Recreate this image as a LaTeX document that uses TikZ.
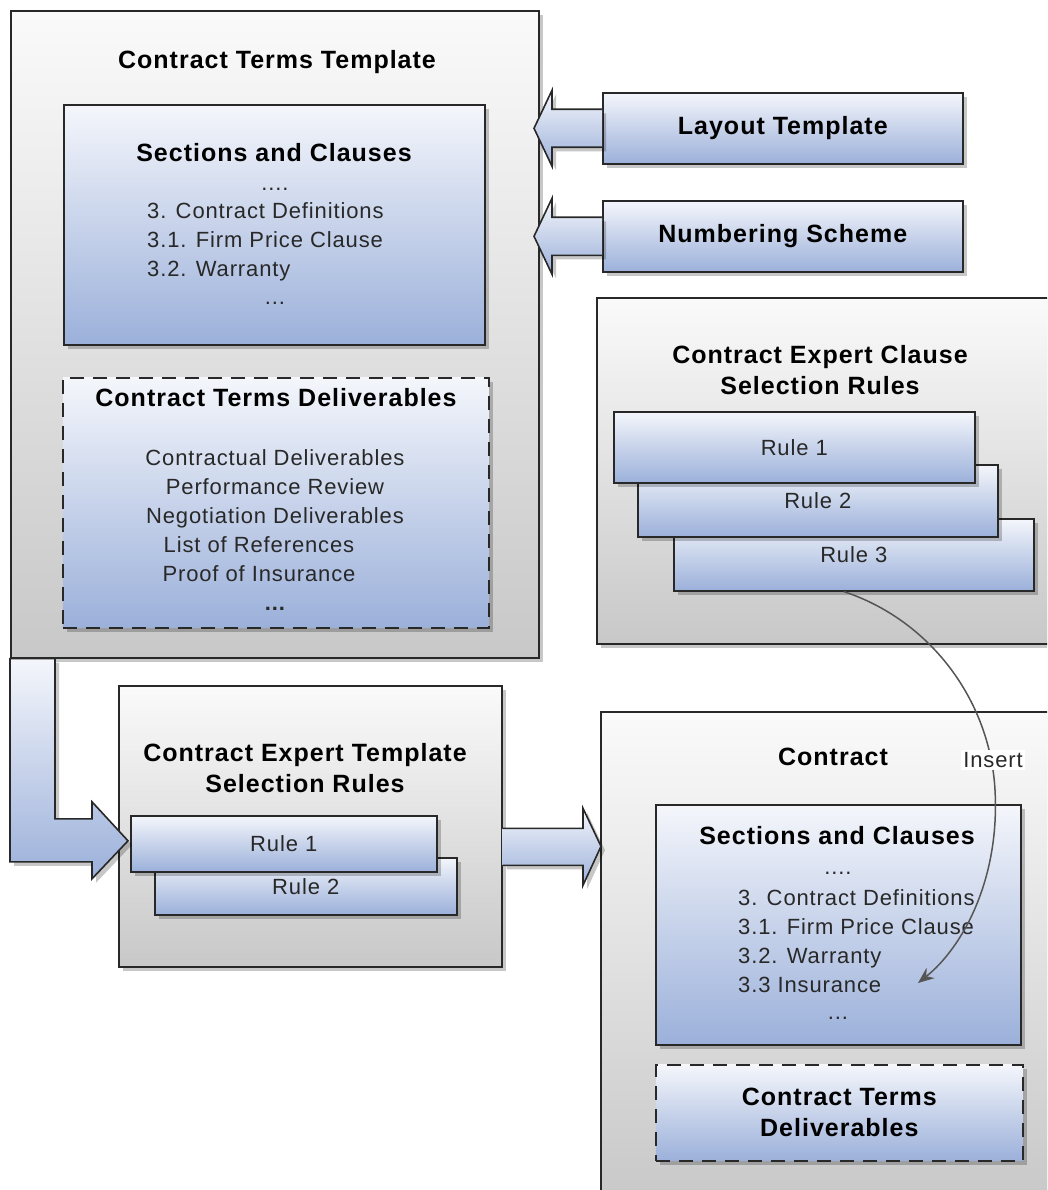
\documentclass[tikz,border=0pt]{standalone}
\usepackage{fontspec}
\setmainfont{Liberation Sans}
\newfontfamily\ttlfont[LetterSpace=4]{Liberation Sans}
\newfontfamily\bodyfont[LetterSpace=4]{Liberation Sans}
\usetikzlibrary{shadows,arrows.meta,calc}
\definecolor{bluetop}{RGB}{244,246,251}
\definecolor{bluebot}{RGB}{155,176,218}
\definecolor{graytop}{RGB}{250,250,250}
\definecolor{graybot}{RGB}{200,200,200}
\definecolor{edge}{RGB}{40,40,40}
\definecolor{txt}{RGB}{40,40,40}
\definecolor{curve}{RGB}{85,85,85}
\tikzset{
  shadowed/.style={drop shadow={shadow xshift=4pt,shadow yshift=-4pt,opacity=0.22,fill=black}},
  graybox/.style={draw=edge,line width=1.6pt,top color=graytop,bottom color=graybot,shadowed,anchor=north west,inner sep=0pt},
  bluebox/.style={draw=edge,line width=1.6pt,top color=bluetop,bottom color=bluebot,shadowed,anchor=north west,inner sep=0pt},
  dashbox/.style={bluebox,dash pattern=on 14pt off 9pt},
  ttl/.style={font=\ttlfont\bfseries\fontsize{25}{31}\selectfont,text=black,align=center,inner sep=0pt},
  body/.style={font=\bodyfont\fontsize{22}{29}\selectfont,text=txt,align=center,inner sep=0pt},
  blockarrow/.style={draw=edge,line width=1.6pt,top color=bluetop,bottom color=bluebot,shadowed,line join=miter},
  insertline/.style={draw=curve,line width=1.5pt,-{Stealth[length=16pt,width=13pt]}}
}
\begin{document}
\begin{tikzpicture}[x=1pt,y=-1pt]
\useasboundingbox (0,0) rectangle (1047,1190);
\clip (0,0) rectangle (1047,1190);
\fill[white] (0,0) rectangle (1047,1190);

% ---------- Contract Terms Template ----------
\node[graybox,minimum width=528pt,minimum height=647pt] (ctt) at (10,10) {};
\node[ttl] (cttT) at (277,62) {Contract Terms Template};
\node[bluebox,minimum width=421pt,minimum height=240pt] (sc1) at (63,104) {};
\node[ttl] (sc1T) at (274,153) {Sections and Clauses};
\node[body] (sc1a) at (275,189) {....};
\node[body,align=left,anchor=west] (sc1b) at (147,242) {3. Contract Definitions\\3.1. Firm Price Clause\\3.2. Warranty};
\node[body] (sc1c) at (275,303) {...};
\node[dashbox,minimum width=426pt,minimum height=250pt] (ctd1) at (62,377) {};
\node[ttl] (ctd1T) at (276,398) {Contract Terms Deliverables};
\node[body] (ctd1b) at (275,530) {Contractual Deliverables\\Performance Review\\Negotiation Deliverables\\List of References\hspace*{32pt}\mbox{}\\Proof of Insurance\hspace*{32pt}\mbox{}\\{\bfseries ...}};

% ---------- Layout / Numbering ----------
\node[bluebox,ttl,minimum width=360pt,minimum height=71pt] (lt) at (602,92) {Layout Template};
\node[bluebox,ttl,minimum width=360pt,minimum height=71pt] (ns) at (602,200) {Numbering Scheme};

% ---------- Contract Expert Clause Selection Rules ----------
\node[graybox,minimum width=464pt,minimum height=346pt] (ccr) at (596,297) {};
\node[ttl] (ccrT) at (820,370) {Contract Expert Clause\\Selection Rules};
\node[bluebox,body,minimum width=360pt,minimum height=72pt] (cr3) at (673,518) {Rule 3};
\node[bluebox,body,minimum width=360pt,minimum height=72pt] (cr2) at (637,464) {Rule 2};
\node[bluebox,body,minimum width=361pt,minimum height=71pt] (cr1) at (613,411) {Rule 1};

% ---------- Contract Expert Template Selection Rules ----------
\node[graybox,minimum width=383pt,minimum height=281pt] (etr) at (118,685) {};
\node[ttl] (etrT) at (305,768) {Contract Expert Template\\Selection Rules};
\node[bluebox,body,minimum width=302pt,minimum height=57pt] (tr2) at (154,857) {Rule 2};
\node[bluebox,body,minimum width=306pt,minimum height=56pt] (tr1) at (130,815) {Rule 1};

% ---------- Contract ----------
\node[graybox,minimum width=460pt,minimum height=490pt] (con) at (600,711) {};
\node[ttl] (conT) at (833,757) {Contract};
\node[bluebox,minimum width=365pt,minimum height=240pt] (sc2) at (655,804) {};
\node[ttl] (sc2T) at (837,836) {Sections and Clauses};
\node[body] (sc2a) at (838,873) {....};
\node[body,align=left,anchor=west] (sc2b) at (738,941) {3. Contract Definitions\\3.1. Firm Price Clause\\3.2. Warranty\\3.3 Insurance};
\node[body] (sc2c) at (838,1018) {...};
\node[dashbox,ttl,minimum width=367pt,minimum height=96pt] (ctd2) at (655,1064) {Contract Terms\\Deliverables};

% ---------- Block arrows ----------
\draw[blockarrow] ($(lt.west)+(0,-19)$) -- ++(-50,0) -- ++(0,-19) -- ($(lt.west)+(-68,0)$)
  -- ($(lt.west)+(-50,38)$) -- ++(0,-19) -- ($(lt.west)+(0,19)$);
\draw[blockarrow] ($(ns.west)+(0,-19)$) -- ++(-50,0) -- ++(0,-19) -- ($(ns.west)+(-68,0)$)
  -- ($(ns.west)+(-50,38)$) -- ++(0,-19) -- ($(ns.west)+(0,19)$);

\coordinate (rtip) at ($(con.west |- etr.east)+(1,20)$);
\draw[blockarrow] ($(etr.east)+(0,2)$) -- ($(rtip)+(-18,-18)$) -- ($(rtip)+(-18,-38)$) -- (rtip)
  -- ($(rtip)+(-18,39)$) -- ($(rtip)+(-18,19)$) -- ($(etr.east)+(0,39)$);

\coordinate (ltip) at ($(tr1.west)+(-2,-3)$);
\draw[blockarrow] (ctt.south west) -- ++(45,0) -- ($(ltip)+(-73,-22)$) -- ($(ltip)+(-36,-22)$)
  -- ($(ltip)+(-36,-39)$) -- (ltip) -- ($(ltip)+(-36,38)$) -- ($(ltip)+(-36,21)$)
  -- ($(ltip)+(-118,21)$) -- cycle;

% ---------- Insert connector ----------
\coordinate (insEnd) at (918,983);
\draw[insertline] ($(cr3.south)+(-10,0)$) .. controls (930,620) and (990,700) .. (995,790)
  .. controls (1000,880) and (962,948) .. (insEnd);
\node[body,fill=white,inner sep=2pt] (insL) at (993,760) {Insert};
\end{tikzpicture}
\end{document}
